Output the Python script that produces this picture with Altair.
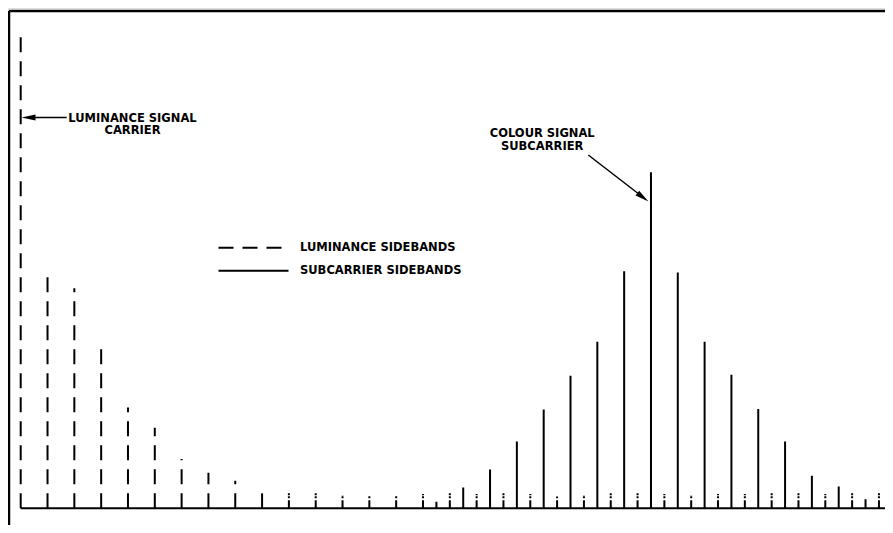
import altair as alt
import pandas as pd

# ---- data ----
series_names = ["LUMINANCE SIDEBANDS", "SUBCARRIER SIDEBANDS"]

lum_index = [0, 1, 2, 3, 4, 5, 6, 7, 8, 9, 10, 11, 12, 13, 14, 15, 16,
             17, 18, 19, 20, 21, 22, 23, 24, 25, 26, 27, 28, 29, 30, 31, 32]
lum_amp = [100, 49.3, 46.5, 33.7, 21.3, 17.0, 10.4, 7.5, 5.8, 4.6, 3.4,
           3.2, 2.8, 2.7, 2.7, 3.0, 3.2, 3.0, 3.2, 3.0, 2.5, 2.8, 3.2,
           3.2, 3.0, 2.8, 3.0, 3.0, 3.2, 3.5, 3.0, 3.3, 3.4]

sub_index = [15.5, 16.5, 17.5, 18.5, 19.5, 20.5, 21.5, 22.5, 23.5,
             24.5, 25.5, 26.5, 27.5, 28.5, 29.5, 30.5, 31.5]
sub_amp = [1.4, 4.4, 8.2, 14.1, 20.9, 28.0, 35.2, 50.1, 71.0,
           49.8, 35.2, 28.2, 21.0, 14.1, 6.9, 4.6, 1.9]

df = pd.concat([
    pd.DataFrame({"idx": lum_index, "amp": lum_amp, "series": series_names[0]}),
    pd.DataFrame({"idx": sub_index, "amp": sub_amp, "series": series_names[1]}),
], ignore_index=True)

W, H = 877, 517
FONT = "DejaVu Sans"

x_scale = alt.Scale(domain=[-0.4735, 32.226], nice=False, zero=False)
y_scale = alt.Scale(domain=[-3.528, 105.70], nice=False, zero=False)

small = "datum.series === 'LUMINANCE SIDEBANDS' && datum.amp < 4.5"

lines = alt.Chart(df).transform_filter("!(" + small + ")").transform_calculate(
    base="0"
).mark_rule(strokeWidth=2, color="black").encode(
    x=alt.X("idx:Q", scale=x_scale, axis=None),
    y=alt.Y("base:Q", scale=y_scale, axis=None),
    y2=alt.Y2("amp:Q"),
    strokeDash=alt.StrokeDash(
        "series:N",
        scale=alt.Scale(domain=series_names, range=[[15, 9], [1, 0]]),
        legend=alt.Legend(
            title=None, orient="none", legendX=232.5, legendY=226.7,
            symbolType="M -2.9167 0 L 2.9167 0", symbolSize=576,
            symbolStrokeWidth=2, symbolStrokeColor="black",
            labelFont=FONT, labelFontWeight="bold",
            labelFontSize=11.5, labelColor="black", labelOffset=33.5,
            rowPadding=4, padding=0, labelLimit=0,
        ),
    ),
)

small_lines = alt.Chart(df).transform_filter(small).transform_calculate(
    base="0"
).mark_rule(strokeWidth=2, color="black", strokeDash=[8, 2, 2, 1, 2, 20]).encode(
    x=alt.X("idx:Q", scale=x_scale, axis=None),
    y=alt.Y("base:Q", scale=y_scale, axis=None),
    y2=alt.Y2("amp:Q"),
)

one = alt.Data(values=[{}])

baseline = alt.Chart(one).transform_calculate(x0="0", y0="0").mark_rule(
    strokeWidth=2, color="black"
).encode(
    x=alt.X("x0:Q", scale=x_scale, axis=None),
    x2=alt.value(W),
    y=alt.Y("y0:Q", scale=y_scale, axis=None),
)

frame_top = alt.Chart(one).mark_rule(strokeWidth=2.5, color="black").encode(
    x=alt.value(1), x2=alt.value(W), y=alt.value(3))
frame_left = alt.Chart(one).mark_rule(strokeWidth=2.5, color="black").encode(
    x=alt.value(1), y=alt.value(3), y2=alt.value(H))


def label(txt, x, y):
    return alt.Chart(one).mark_text(
        font=FONT, fontWeight="bold", fontSize=11.5, align="center",
        baseline="alphabetic", color="black",
    ).encode(x=alt.value(x), y=alt.value(y), text=alt.value(txt))


arrow_path = "M 1 0 L -1 -0.43 L -1 0.43 Z"

arrow1_line = alt.Chart(one).mark_rule(strokeWidth=1.5, color="black").encode(
    x=alt.value(22), x2=alt.value(58.7), y=alt.value(109.5), y2=alt.value(109.5))
arrow1_head = alt.Chart(one).mark_point(
    shape=arrow_path, size=196, filled=True, color="black", opacity=1, angle=180
).encode(x=alt.value(20.5), y=alt.value(109.5))

arrow2_line = alt.Chart(one).mark_rule(strokeWidth=1.5, color="black").encode(
    x=alt.value(580.3), y=alt.value(147), x2=alt.value(636), y2=alt.value(190))
arrow2_head = alt.Chart(one).mark_point(
    shape=arrow_path, size=196, filled=True, color="black", opacity=1, angle=37.4
).encode(x=alt.value(634.9), y=alt.value(189.3))

chart = alt.layer(
    frame_top, frame_left, baseline, lines, small_lines,
    label("LUMINANCE SIGNAL", 124.5, 113.7), label("CARRIER", 124.5, 126),
    label("COLOUR SIGNAL", 534.2, 129), label("SUBCARRIER", 534.2, 141.5),
    arrow1_line, arrow1_head, arrow2_line, arrow2_head,
).properties(
    width=W, height=H, autosize=alt.AutoSizeParams(type="none"), padding=0,
).configure_view(stroke=None).configure(background="white")

chart.save("out.html", embed_options={"renderer": "svg", "actions": False})
